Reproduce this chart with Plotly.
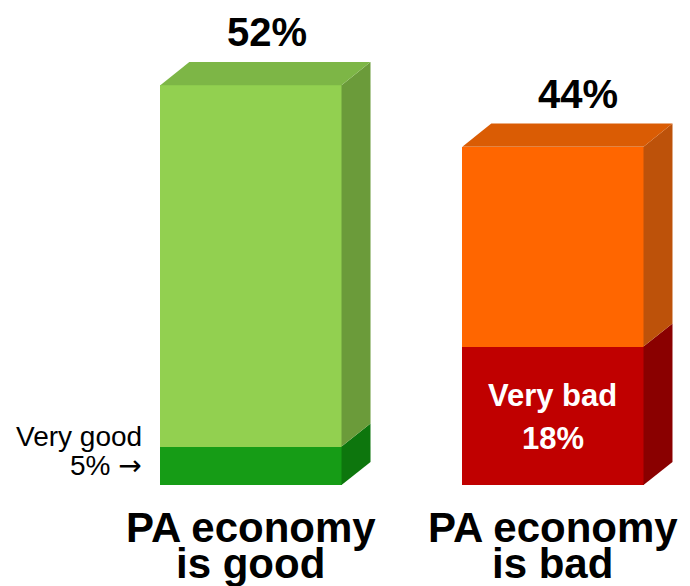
import plotly.graph_objects as go

# Survey results: share of respondents rating the PA economy
categories = ["PA economy is good", "PA economy is bad"]
cat_lines = [["PA economy", "is good"], ["PA economy", "is bad"]]
strong_share = [5, 18]      # "Very good" / "Very bad"
total_share = [52, 44]      # overall good / bad
strong_labels = ["Very good", "Very bad"]

rest_share = [t - s for t, s in zip(total_share, strong_share)]

# palette: (front, side, top) per segment
strong_colors = [("#169C16", "#0D760D", "#128A12"), ("#C00000", "#8A0000", "#A80000")]
rest_colors = [("#92D050", "#6B9B3A", "#7DB646"), ("#FF6600", "#BD520A", "#DA5C04")]

x_pos = [0, 1]
bar_w = 0.6
dx = 0.096   # depth offset along x (axis units)
dy = 3.0     # depth offset along y (percent units)
total_xshift = [2, 11]

FONT = "Liberation Sans, Arial, sans-serif"

fig = go.Figure()
fig.add_trace(go.Bar(x=x_pos, y=strong_share, width=bar_w,
                     marker=dict(color=[c[0] for c in strong_colors], line=dict(width=0)),
                     hoverinfo="skip", showlegend=False))
fig.add_trace(go.Bar(x=x_pos, y=rest_share, width=bar_w,
                     marker=dict(color=[c[0] for c in rest_colors], line=dict(width=0)),
                     hoverinfo="skip", showlegend=False))


def poly(pts):
    return "M " + " L ".join(f"{px},{py}" for px, py in pts) + " Z"


shapes = []
annotations = []
for i, x in enumerate(x_pos):
    xl, xr = x - bar_w / 2, x + bar_w / 2
    s, t = strong_share[i], total_share[i]
    # side faces
    for (y0, y1), col in (((0, s), strong_colors[i][1]), ((s, t), rest_colors[i][1])):
        shapes.append(dict(type="path", xref="x", yref="y", layer="above",
                           path=poly([(xr, y0), (xr + dx, y0 + dy), (xr + dx, y1 + dy), (xr, y1)]),
                           fillcolor=col, line=dict(width=0)))
    # top face
    shapes.append(dict(type="path", xref="x", yref="y", layer="above",
                       path=poly([(xl, t), (xl + dx, t + dy), (xr + dx, t + dy), (xr, t)]),
                       fillcolor=rest_colors[i][2], line=dict(width=0)))

    # total label above the bar
    annotations.append(dict(x=x + dx / 2, y=t + dy, xref="x", yref="y", text=f"<b>{t}%</b>",
                            showarrow=False, yanchor="middle", yshift=30,
                            xshift=total_xshift[i],
                            font=dict(family=FONT, size=40, color="black")))
    # category label below
    for j, line in enumerate(cat_lines[i]):
        annotations.append(dict(x=x, y=0, xref="x", yref="y", text=f"<b>{line}</b>",
                                showarrow=False, yanchor="middle", yshift=-42 - 36 * j,
                                font=dict(family=FONT, size=42, color="black")))

# "Very good" callout left of the first bar
annotations.append(dict(x=x_pos[0] - bar_w / 2, y=strong_share[0] / 2, xref="x", yref="y",
                        text=strong_labels[0], showarrow=False, xanchor="right",
                        yanchor="middle", xshift=-16, yshift=29,
                        font=dict(family=FONT, size=28, color="black")))
annotations.append(dict(x=x_pos[0] - bar_w / 2, y=strong_share[0] / 2, xref="x", yref="y",
                        text=f"{strong_share[0]}% <span style='font-family:DejaVu Sans'>\u2192</span>",
                        showarrow=False, xanchor="right",
                        yanchor="middle", xshift=-16,
                        font=dict(family=FONT, size=28, color="black")))
# "Very bad" label inside the red segment
annotations.append(dict(x=x_pos[1], y=strong_share[1] / 2, xref="x", yref="y",
                        text=f"<b>{strong_labels[1]}</b>", showarrow=False,
                        yanchor="middle", yshift=20,
                        font=dict(family=FONT, size=31, color="white")))
annotations.append(dict(x=x_pos[1], y=strong_share[1] / 2, xref="x", yref="y",
                        text=f"<b>{strong_share[1]}%</b>", showarrow=False,
                        yanchor="middle", yshift=-23,
                        font=dict(family=FONT, size=31, color="white")))

fig.update_layout(
    width=690, height=586,
    margin=dict(l=0, r=0, t=0, b=0),
    paper_bgcolor="white", plot_bgcolor="white",
    barmode="stack", bargap=0,
    shapes=shapes, annotations=annotations,
    xaxis=dict(range=[-0.831, 1.454], visible=False, fixedrange=True),
    yaxis=dict(range=[-13.13, 63.07], visible=False, fixedrange=True),
)

fig.write_html("out.html")
